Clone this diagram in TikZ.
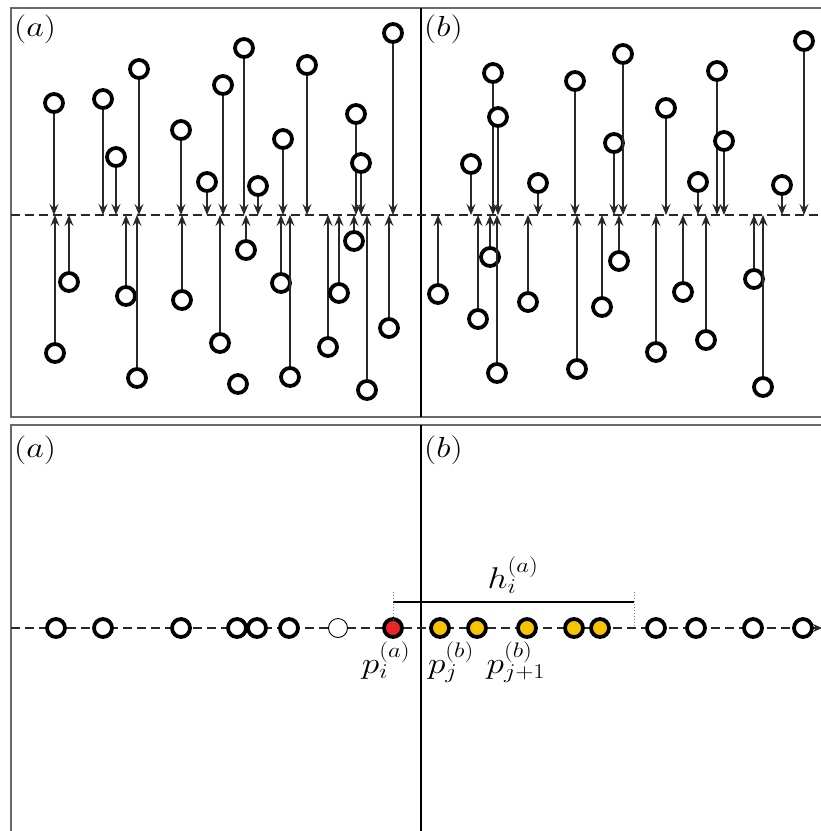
\RequirePackage{fix-cm}
\documentclass[tikz,border=0pt]{standalone}
\usepackage{graphicx}
\usetikzlibrary{arrows.meta}
\definecolor{framegray}{RGB}{105,105,105}
\definecolor{arrgray}{RGB}{40,40,40}
\definecolor{ptred}{RGB}{236,36,40}
\definecolor{ptyellow}{RGB}{247,196,0}
\newcommand{\wide}[1]{\scalebox{1.18}[1]{#1}}
\begin{document}
\begin{tikzpicture}[x=1pt,y=-1pt,
  ring/.style={circle,draw=black,fill=white,line width=3.8pt,minimum size=18pt,inner sep=0pt},
  thinring/.style={circle,draw=black,fill=white,line width=0.9pt,minimum size=19pt,inner sep=0pt},
  arr/.style={draw=arrgray,line width=1.2pt,-{Stealth[length=11pt,width=9pt,inset=4pt]}},
  frame/.style={draw=framegray,line width=1.8pt},
  divider/.style={draw=black,line width=1.3pt},
  axisline/.style={draw=arrgray,line width=1.1pt,dash pattern=on 9pt off 5pt},
  tag/.style={font=\fontsize{29}{35}\selectfont,inner sep=0pt},
  mlab/.style={font=\fontsize{30}{36}\selectfont,inner sep=0pt},
  guide/.style={draw=gray,line width=1pt,dotted}
]
\useasboundingbox (0,0) rectangle (821,831);
\clip (0,0) rectangle (821,831);

% ---------- upper figure: projection onto the axis ----------
\draw[frame] (11,8) rectangle (840,417);
\draw[divider] (421,8) -- (421,417);
\draw[axisline] (11,215) -- (821,215);
\coordinate (axT) at (0,215);

\node[tag,anchor=base west] (ta) at (14,36) {\wide{$(a)$}};
\node[tag,anchor=base west] (tb) at (424,36) {\wide{$(b)$}};

% (a): points above the axis
\foreach \px/\py [count=\i] in {54/103,103/99,116/157,139/69,181/130,207/182,223/85,244/48,
    258/186,283/139,307/65,356/114,361/163,393/33}{
  \node[ring] (aU\i) at (\px,\py) {};
  \draw[arr] (aU\i) -- (aU\i |- axT);
}
% (a): points below the axis
\foreach \px/\py [count=\i] in {55/353,69/282,126/296,137/378,182/300,220/343,246/250,281/283,
    290/377,328/347,339/293,354/241,367/390,389/328}{
  \node[ring] (aL\i) at (\px,\py) {};
  \draw[arr] (aL\i) -- (aL\i |- axT);
}
\node[ring] (aL0) at (238,384) {};

% (b): points above the axis
\foreach \px/\py [count=\i] in {471/164,493/73,498/117,538/183,575/81,614/143,623/54,666/108,
    698/182,717/71,724/141,782/185,804/41}{
  \node[ring] (bU\i) at (\px,\py) {};
  \draw[arr] (bU\i) -- (bU\i |- axT);
}
% (b): points below the axis
\foreach \px/\py [count=\i] in {438/294,478/319,490/257,497/373,528/302,577/369,602/307,619/261,
    656/352,683/292,706/340,754/279,763/387}{
  \node[ring] (bL\i) at (\px,\py) {};
  \draw[arr] (bL\i) -- (bL\i |- axT);
}

% ---------- lower figure: points on the line ----------
\draw[frame] (11,425) rectangle (840,850);
\draw[divider] (421,425) -- (421,850);
\node[tag,anchor=base west] (ta2) at (14,457) {\wide{$(a)$}};
\node[tag,anchor=base west] (tb2) at (424,457) {\wide{$(b)$}};

\coordinate (lineS) at (11,628);
\coordinate (lineE) at (822,628);
\draw[axisline,-{Stealth[length=9pt,width=8pt,inset=3pt]}] (lineS) -- (lineE);

\foreach \px [count=\i] in {56,103,181,237,257,289}{
  \node[ring] (w\i) at (\px,628) {};
}
\node[thinring] (ghost) at (338,628) {};
\node[ring,fill=ptred] (pa) at (393,628) {};
\foreach \px [count=\i] in {440,477,527,574,600}{
  \node[ring,fill=ptyellow] (y\i) at (\px,628) {};
}
\foreach \px [count=\i] in {656,696,753,803}{
  \node[ring] (r\i) at (\px,628) {};
}

% window h_i^{(a)}
\coordinate (hL) at (393,602);
\coordinate (hR) at (634,602);
\coordinate (hLt) at (393,592);
\coordinate (hRt) at (634,592);
\coordinate (hRb) at (634,628);
\draw[black,line width=1.2pt] (hL) -- (hR);
\draw[guide] (hLt) -- (pa.center);
\draw[guide] (hRt) -- (hRb);
\node[mlab,anchor=base] (hlab) at (513,588) {\wide{$h_i^{(a)}$}};

\node[mlab,anchor=base] (lpa) at (386,673) {\wide{$p_i^{(a)}$}};
\node[mlab,anchor=base] (lpj) at (451,673) {\wide{$p_j^{(b)}$}};
\node[mlab,anchor=base] (lpj1) at (516,673) {\wide{$p_{j+1}^{(b)}$}};
\end{tikzpicture}
\end{document}
